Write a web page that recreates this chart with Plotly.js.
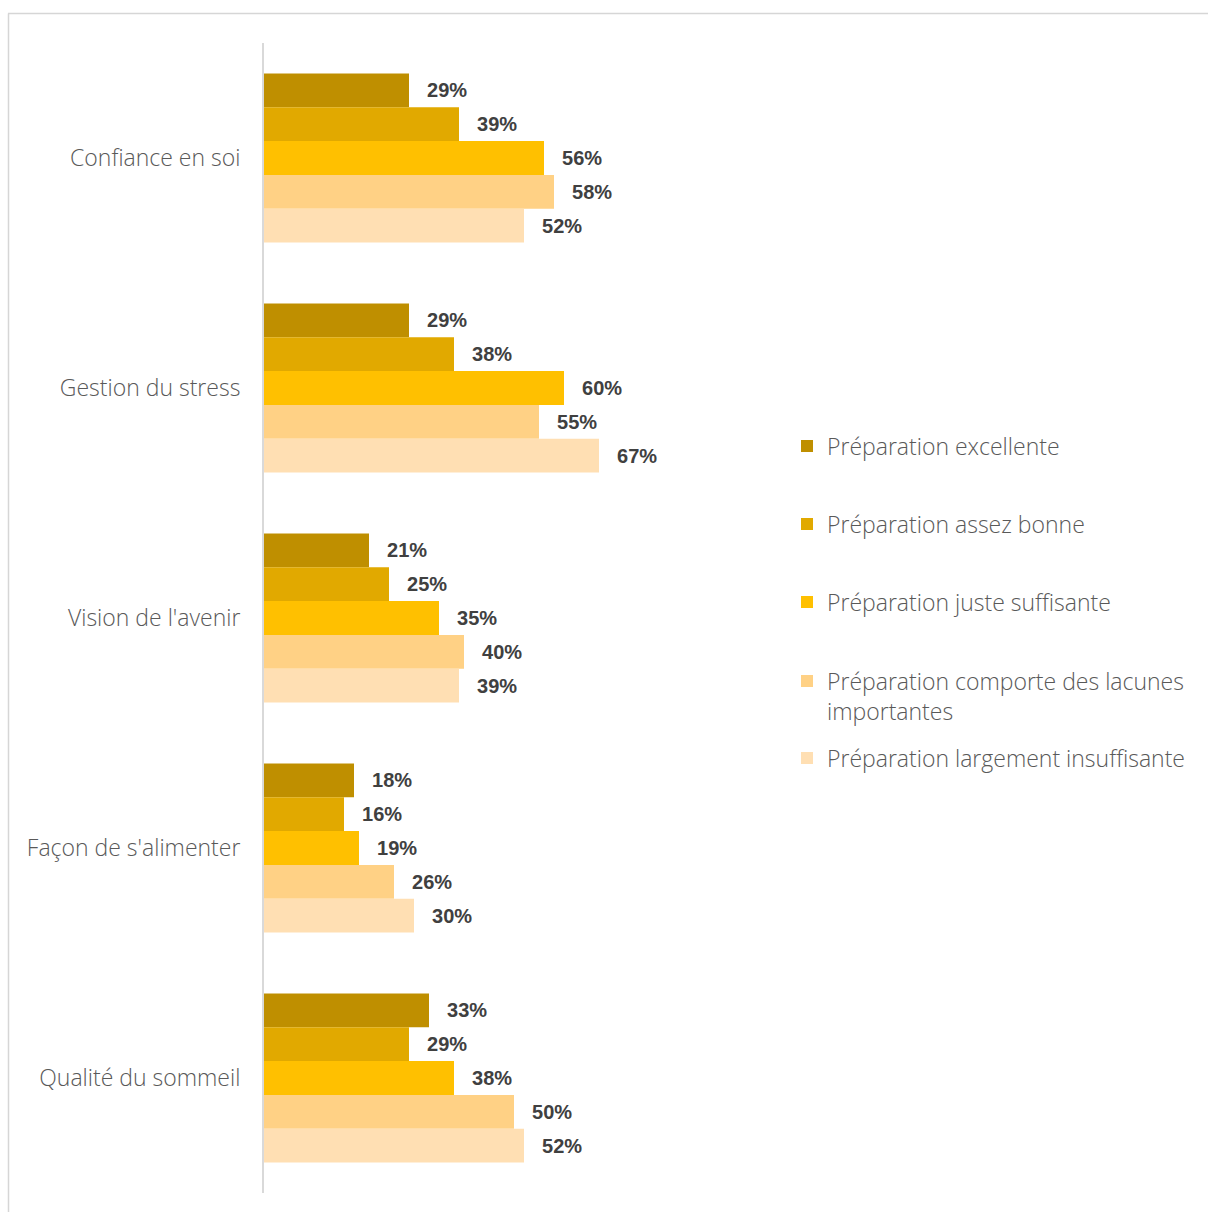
<!DOCTYPE html>
<html>
<head>
<meta charset="utf-8">
<script src="https://cdn.plot.ly/plotly-3.0.1.min.js"></script>
<style>html,body{margin:0;padding:0;background:#fff;}#chart{width:1208px;height:1212px;}</style>
</head>
<body>
<div id="chart"></div>
<script>
const categories = ["Confiance en soi", "Gestion du stress", "Vision de l'avenir", "Façon de s'alimenter", "Qualité du sommeil"];
const seriesNames = ["Préparation excellente", "Préparation assez bonne", "Préparation juste suffisante", "Préparation comporte des lacunes<br>importantes", "Préparation largement insuffisante"];
const excellente = [29, 29, 21, 18, 33];
const assezBonne = [39, 38, 25, 16, 29];
const justeSuffisante = [56, 60, 35, 19, 38];
const lacunes = [58, 55, 40, 26, 50];
const largementInsuffisante = [52, 67, 39, 30, 52];
const colors = ["#BF8F00", "#E1A900", "#FFC000", "#FFD185", "#FFDFB3"];

const seriesValues = [excellente, assezBonne, justeSuffisante, lacunes, largementInsuffisante];
const legendNames = ["legend", "legend2", "legend3", "legend4", "legend5"];

const data = seriesValues.map((vals, i) => ({
  type: "bar",
  orientation: "h",
  y: categories,
  x: vals,
  name: seriesNames[i],
  marker: {color: colors[i], line: {width: 0}},
  text: vals.map(v => v + "%"),
  texttemplate: "\u00a0\u00a0\u2009%{text}",
  textposition: "outside",
  cliponaxis: false,
  textfont: {family: "Liberation Sans, Arial, sans-serif", size: 20, color: "#404040", weight: "bold"},
  legend: legendNames[i],
  hoverinfo: "skip"
}));

// plot area: x 264..764 (500px), y 43..1193 (1150px)
const px2x = px => (px - 264) / 500;
const px2y = py => (1193 - py) / 1150;
const legendCenters = [446, 524, 602, 696, 758];
const legendFont = {family: "Open Sans, sans-serif", size: 23, color: "#595959", weight: 300};

const layout = {
  width: 1208,
  height: 1212,
  margin: {l: 264, r: 444, t: 43, b: 19},
  paper_bgcolor: "#ffffff",
  plot_bgcolor: "#ffffff",
  barmode: "group",
  bargap: 0.265,
  bargroupgap: 0,
  showlegend: true,
  xaxis: {range: [0, 100], visible: false, fixedrange: true},
  yaxis: {
    autorange: "reversed",
    showline: true,
    linecolor: "#D9D9D9",
    linewidth: 2,
    showgrid: false,
    zeroline: false,
    ticks: "",
    ticklabelstandoff: 17,
    tickfont: {family: "Open Sans, sans-serif", size: 23, color: "#595959", weight: 300}
  },
  shapes: [
    {type: "line", xref: "paper", yref: "paper", x0: px2x(8), x1: px2x(1210), y0: px2y(13.5), y1: px2y(13.5), line: {color: "#D6D6D6", width: 1.5}},
    {type: "line", xref: "paper", yref: "paper", x0: px2x(8.5), x1: px2x(8.5), y0: px2y(13.5), y1: px2y(1214), line: {color: "#D6D6D6", width: 1.5}}
  ]
};

legendNames.forEach((ln, i) => {
  layout[ln] = {
    x: px2x(787),
    xanchor: "left",
    y: px2y(legendCenters[i]),
    yanchor: "middle",
    valign: "top",
    bgcolor: "rgba(0,0,0,0)",
    borderwidth: 0,
    font: legendFont,
    itemclick: false,
    itemdoubleclick: false
  };
});

Plotly.newPlot("chart", data, layout, {displayModeBar: false, staticPlot: true});
</script>
</body>
</html>
